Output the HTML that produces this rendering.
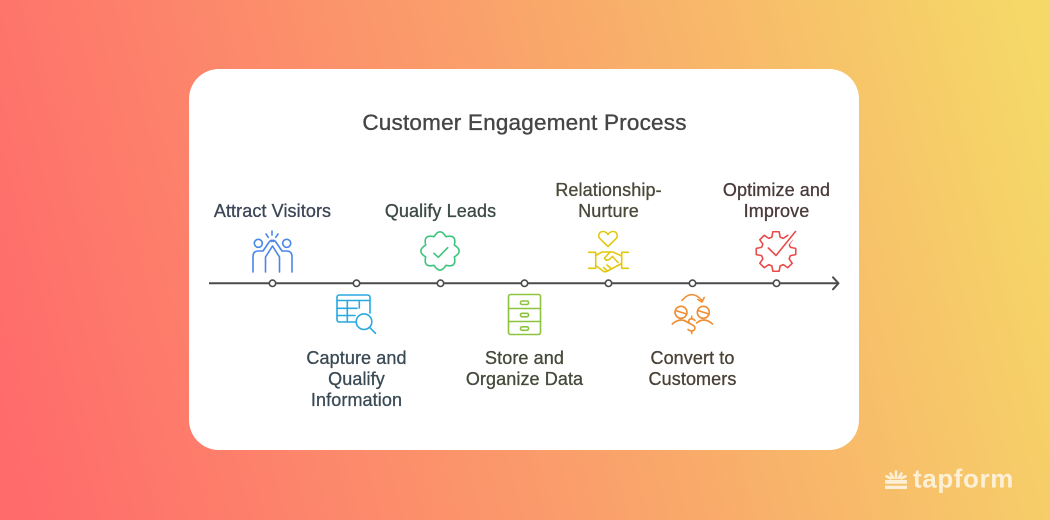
<!DOCTYPE html>
<html>
<head>
<meta charset="utf-8">
<style>
  html,body{margin:0;padding:0;width:1050px;height:520px;overflow:hidden;}
  svg{display:block;}
  .lbl{font-family:"Liberation Sans",Arial,sans-serif;font-size:18px;letter-spacing:0.1px;stroke-width:0.3px;}
</style>
</head>
<body>
<svg width="1050" height="520" viewBox="0 0 1050 520" xmlns="http://www.w3.org/2000/svg">
  <defs>
    <linearGradient id="bg" gradientUnits="userSpaceOnUse" x1="0" y1="400" x2="1050" y2="120">
      <stop offset="0" stop-color="#ff6b6b"/>
      <stop offset="0.5" stop-color="#fa9f6b"/>
      <stop offset="1" stop-color="#f5d868"/>
    </linearGradient>
  </defs>
  <rect x="0" y="0" width="1050" height="520" fill="url(#bg)"/>

  <!-- card -->
  <rect x="189" y="69" width="670" height="381" rx="30" ry="30" fill="#ffffff"/>

  <!-- title -->
  <text x="524.5" y="130" text-anchor="middle" font-family="Liberation Sans, Arial, sans-serif" font-size="22.5" letter-spacing="0.2" fill="#454545" stroke="#454545" stroke-width="0.35">Customer Engagement Process</text>

  <!-- top labels -->
  <text class="lbl" x="272.5" y="217" text-anchor="middle" fill="#3c4657" stroke="#3c4657">Attract Visitors</text>
  <text class="lbl" x="440.5" y="217" text-anchor="middle" fill="#3c4a44" stroke="#3c4a44">Qualify Leads</text>
  <text class="lbl" x="608.5" y="196" text-anchor="middle" fill="#4a4838" stroke="#4a4838">Relationship-</text>
  <text class="lbl" x="608.5" y="217" text-anchor="middle" fill="#4a4838" stroke="#4a4838">Nurture</text>
  <text class="lbl" x="776.5" y="196" text-anchor="middle" fill="#4a3a3a" stroke="#4a3a3a">Optimize and</text>
  <text class="lbl" x="776.5" y="217" text-anchor="middle" fill="#4a3a3a" stroke="#4a3a3a">Improve</text>

  <!-- bottom labels -->
  <text class="lbl" x="356.5" y="364" text-anchor="middle" fill="#3a4a55" stroke="#3a4a55">Capture and</text>
  <text class="lbl" x="356.5" y="385" text-anchor="middle" fill="#3a4a55" stroke="#3a4a55">Qualify</text>
  <text class="lbl" x="356.5" y="406" text-anchor="middle" fill="#3a4a55" stroke="#3a4a55">Information</text>
  <text class="lbl" x="524.5" y="364" text-anchor="middle" fill="#444a3a" stroke="#444a3a">Store and</text>
  <text class="lbl" x="524.5" y="385" text-anchor="middle" fill="#444a3a" stroke="#444a3a">Organize Data</text>
  <text class="lbl" x="692.5" y="364" text-anchor="middle" fill="#4a4036" stroke="#4a4036">Convert to</text>
  <text class="lbl" x="692.5" y="385" text-anchor="middle" fill="#4a4036" stroke="#4a4036">Customers</text>

  <!-- timeline -->
  <line x1="209" y1="283.3" x2="837.5" y2="283.3" stroke="#4b4b4b" stroke-width="2"/>
  <polyline points="833,277.3 838.5,283.3 833,289.3" fill="none" stroke="#4b4b4b" stroke-width="2" stroke-linecap="round" stroke-linejoin="round"/>
  <g fill="#ffffff" stroke="#4b4b4b" stroke-width="1.6">
    <circle cx="272.5" cy="283.3" r="3.2"/>
    <circle cx="356.5" cy="283.3" r="3.2"/>
    <circle cx="440.5" cy="283.3" r="3.2"/>
    <circle cx="524.5" cy="283.3" r="3.2"/>
    <circle cx="608.5" cy="283.3" r="3.2"/>
    <circle cx="692.5" cy="283.3" r="3.2"/>
    <circle cx="776.5" cy="283.3" r="3.2"/>
  </g>

  <!-- Icon 1: high five (blue) -->
  <g fill="none" stroke="#4a86e8" stroke-width="1.6" stroke-linecap="round" stroke-linejoin="round">
    <line x1="272" y1="231" x2="272" y2="235"/>
    <line x1="266" y1="234" x2="268.3" y2="237.3"/>
    <line x1="278" y1="234" x2="275.7" y2="237.3"/>
    <circle cx="258.3" cy="243.3" r="4"/>
    <circle cx="286.7" cy="243.3" r="4"/>
    <path d="M253,272 V256.5 Q253,251 258.5,251 H263 L269.5,241.5 Q271.5,239 273.5,241.5"/>
    <path d="M292,272 V256.5 Q292,251 286.5,251 H282 L275.5,241.5 Q273.5,239 271.5,241.5"/>
    <path d="M265.5,272 V257 L272.5,246 L279.5,257 V272"/>
  </g>

  <!-- Icon 2: table + magnifier (cyan) -->
  <g fill="none" stroke="#29a9df" stroke-width="1.6" stroke-linecap="round" stroke-linejoin="round">
    <path d="M355,322 H339.5 Q337,322 337,319.5 V297.5 Q337,295 339.5,295 H367.5 Q370,295 370,297.5 V313"/>
    <line x1="337" y1="300.5" x2="370" y2="300.5"/>
    <line x1="337" y1="308.3" x2="357" y2="308.3"/>
    <line x1="337" y1="315.5" x2="355" y2="315.5"/>
    <line x1="347.3" y1="300.5" x2="347.3" y2="322"/>
    <line x1="359.3" y1="300.5" x2="359.3" y2="308"/>
    <circle cx="364" cy="321.7" r="7.8" fill="#ffffff"/>
    <line x1="369.7" y1="327.4" x2="375.5" y2="333.3"/>
  </g>

  <!-- Icon 3: badge check (green) -->
  <g fill="none" stroke="#3cc47e" stroke-width="1.6" stroke-linecap="round" stroke-linejoin="round">
    <path d="M434.07,236.68 Q440,227 445.93,236.68 Q456.97,234.03 454.32,245.07 Q464,251 454.32,256.93 Q456.97,267.97 445.93,265.32 Q440,275 434.07,265.32 Q423.03,267.97 425.68,256.93 Q416,251 425.68,245.07 Q423.03,234.03 434.07,236.68 Z"/>
    <polyline points="434,253.3 438.3,257.3 447.7,247.7"/>
  </g>

  <!-- Icon 4: filing cabinet (lime) -->
  <g fill="none" stroke="#8dc43f" stroke-width="1.6" stroke-linecap="round" stroke-linejoin="round">
    <rect x="508.5" y="294.5" width="32" height="40" rx="2"/>
    <line x1="508.5" y1="308.5" x2="540.5" y2="308.5"/>
    <line x1="508.5" y1="321.5" x2="540.5" y2="321.5"/>
    <rect x="520.5" y="301" width="8" height="3.5" rx="1.5"/>
    <rect x="520.5" y="313.3" width="8" height="3.5" rx="1.5"/>
    <rect x="520.5" y="326.8" width="8" height="3.5" rx="1.5"/>
  </g>

  <!-- Icon 5: heart handshake (yellow) -->
  <g fill="none" stroke="#e2c80f" stroke-width="1.6" stroke-linecap="round" stroke-linejoin="round">
    <path d="M608,246.5 L600,238.7 C597.5,236 599,231.5 603,231.5 C605.5,231.5 607,233 608,234.5 C609,233 610.5,231.5 613,231.5 C617,231.5 618.5,236 616,238.7 Z"/>
    <path d="M588.5,252.3 H595.7 V268.3 H588.5"/>
    <path d="M628.5,252.3 H621.7 V268.3 H628.5"/>
    <path d="M595.7,255.5 L602,252 H613 L621.7,256"/>
    <path d="M595.7,265.5 L603,271 Q605,272.5 607.5,271 L621.7,263.5"/>
    <path d="M610,252 L604.5,258 Q606,261.5 609.5,259.3 L612.5,256.5 L618,262.5"/>
    <path d="M607.5,271 L603.5,267.5 M611,268.5 L607,265"/>
  </g>

  <!-- Icon 6: convert (orange) -->
  <g fill="none" stroke="#ef8d33" stroke-width="1.6" stroke-linecap="round" stroke-linejoin="round">
    <path d="M682,300.5 Q691.5,289 701.5,300"/>
    <polyline points="697.8,299.5 702,302 704.2,297.5"/>
    <circle cx="681" cy="312.3" r="6"/>
    <circle cx="703.3" cy="312.3" r="6"/>
    <line x1="675.5" y1="310.5" x2="686.5" y2="314"/>
    <line x1="697.8" y1="310.5" x2="708.8" y2="314"/>
    <path d="M672.3,324 Q680.5,316.5 688.5,323"/>
    <path d="M696.5,323 Q704.5,316.5 712.5,324"/>
    <path d="M695,320.5 Q692.5,317.8 689.5,319.3 Q687.3,321.8 690.3,323.8 L693.5,325.5 Q696.3,327.8 693.8,330.3 Q690.8,332 688,329.5"/>
    <line x1="691.7" y1="316.3" x2="691.7" y2="318.3"/>
    <line x1="691.7" y1="331.3" x2="691.7" y2="333.5"/>
  </g>

  <!-- Icon 7: gear + check (red) -->
  <g fill="none" stroke-linecap="round" stroke-linejoin="round">
    <polygon stroke="#e94b4b" stroke-width="1.6" points="771.87,237.08 772.87,231.75 779.13,231.75 780.13,237.08 783.27,238.38 787.76,235.32 792.18,239.74 789.12,244.23 790.42,247.37 795.75,248.37 795.75,254.63 790.42,255.63 789.12,258.77 792.18,263.26 787.76,267.68 783.27,264.62 780.13,265.92 779.13,271.25 772.87,271.25 771.87,265.92 768.73,264.62 764.24,267.68 759.82,263.26 762.88,258.77 761.58,255.63 756.25,254.63 756.25,248.37 761.58,247.37 762.88,244.23 759.82,239.74 764.24,235.32 768.73,238.38"/>
    <polyline stroke="#ffffff" stroke-width="6" points="776,255.5 795.5,231.5"/>
    <polyline stroke="#e94b4b" stroke-width="1.6" points="768.3,248 776,255.5 795.5,231.5"/>
  </g>

  <!-- tapform logo -->
  <g fill="#fdf0d6" stroke="none">
    <rect x="885" y="480" width="22" height="3.8" rx="0.6"/>
    <rect x="885" y="485.6" width="22" height="3.4" rx="0.6"/>
  </g>
  <g stroke="#fdf0d6" stroke-width="2.6" stroke-linecap="round">
    <line x1="896" y1="471.5" x2="896" y2="478"/>
    <line x1="890.5" y1="473.5" x2="893.2" y2="478"/>
    <line x1="901.5" y1="473.5" x2="898.8" y2="478"/>
    <line x1="886.5" y1="476.3" x2="890.5" y2="478.3"/>
    <line x1="905.5" y1="476.3" x2="901.5" y2="478.3"/>
  </g>
  <text x="913" y="487.5" font-family="Liberation Sans, Arial, sans-serif" font-weight="bold" font-size="26" letter-spacing="0.6" fill="#fdf0d6">tapform</text>
</svg>
</body>
</html>
